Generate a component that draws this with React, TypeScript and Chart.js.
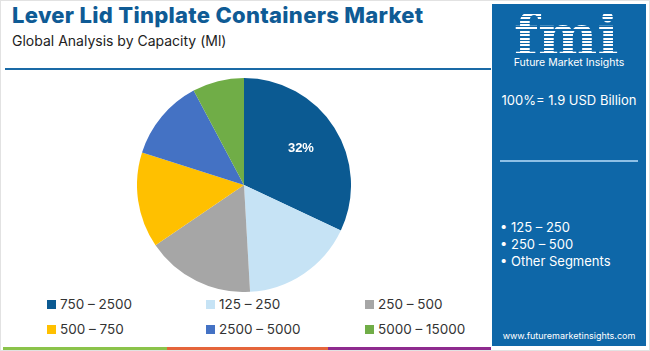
import React, { useEffect, useRef } from "react";
import { Chart, registerables } from "chart.js";

Chart.register(...registerables);

const categories = ["750 – 2500", "125 – 250", "250 – 500", "500 – 750", "2500 – 5000", "5000 – 15000"];
const shares = [32, 17.1, 16.4, 14.4, 12.3, 7.8];
const colors = ["#0b5a92", "#c6e3f5", "#a6a6a6", "#ffc000", "#4472c4", "#70ad47"];
const shownLabels = ["32%", "", "", "", "", ""];
const keySegments = ["125 – 250", "250 – 500", "Other Segments"];
const title = "Lever Lid Tinplate Containers Market";
const subtitle = "Global Analysis by Capacity (Ml)";
const totalText = "100%= 1.9 USD Billion";

const labelPlugin = {
  id: "sliceLabels",
  afterDatasetsDraw(chart: any) {
    const ctx = chart.ctx;
    const meta = chart.getDatasetMeta(0);
    meta.data.forEach((arc: any, i: number) => {
      const txt = shownLabels[i];
      if (!txt) return;
      const mid = (arc.startAngle + arc.endAngle) / 2;
      const r = arc.outerRadius * 0.63;
      const x = arc.x + Math.cos(mid) * r;
      const y = arc.y + Math.sin(mid) * r;
      ctx.save();
      ctx.fillStyle = "#ffffff";
      ctx.font = "bold 13px 'Liberation Sans', Arial, sans-serif";
      ctx.textAlign = "center";
      ctx.textBaseline = "middle";
      ctx.fillText(txt, x, y);
      ctx.restore();
    });
  },
};

export default function App() {
  const ref = useRef<HTMLCanvasElement>(null);
  useEffect(() => {
    document.body.style.margin = "0";
    const chart = new Chart(ref.current!, {
      type: "pie",
      data: {
        labels: categories,
        datasets: [{ data: shares, backgroundColor: colors, borderWidth: 0 }],
      },
      options: {
        animation: false,
        responsive: false,
        maintainAspectRatio: false,
        layout: { padding: 0 },
        plugins: { legend: { display: false }, tooltip: { enabled: false } },
      },
      plugins: [labelPlugin],
    });
    return () => chart.destroy();
  }, []);

  const font = "Inter, 'Open Sans', sans-serif";
  return (
    <div style={{ position: "absolute", left: 0, top: 0, width: 650, height: 351, background: "#fff", overflow: "hidden", fontFamily: font }}>
      <div style={{ position: "absolute", left: 0, top: 0, width: 648, height: 349, border: "1px solid #e2e2e2" }} />
      <div style={{ position: "absolute", left: 12, top: 2, fontSize: 22, fontWeight: 800, color: "#0f5b95", whiteSpace: "nowrap", letterSpacing: 0.3 }}>{title}</div>
      <div style={{ position: "absolute", left: 12, top: 32, fontSize: 14, color: "#222", whiteSpace: "nowrap" }}>{subtitle}</div>
      <div style={{ position: "absolute", left: 5, top: 68, width: 486, height: 2, background: "#1a6aa6" }} />
      <canvas ref={ref} width={214} height={214} style={{ position: "absolute", left: 137, top: 78, width: 214, height: 214 }} />
      {categories.map((c, i) => (
        <div key={c} style={{ position: "absolute", left: 47 + (i % 3) * 159, top: 296 + Math.floor(i / 3) * 25, display: "flex", alignItems: "center", fontSize: 13.5, color: "#333", whiteSpace: "nowrap" }}>
          <span style={{ display: "inline-block", width: 9, height: 9, background: colors[i], marginRight: 4 }} />
          {c}
        </div>
      ))}
      <div style={{ position: "absolute", left: 3, top: 347, width: 164, height: 3, background: "#8bc34a" }} />
      <div style={{ position: "absolute", left: 167, top: 347, width: 161, height: 3, background: "#e5653b" }} />
      <div style={{ position: "absolute", left: 328, top: 347, width: 163, height: 3, background: "#8e2a8e" }} />
      <div style={{ position: "absolute", left: 492, top: 4, width: 154, height: 342, background: "#0e67a8" }}>
        <div style={{ position: "absolute", left: 22, top: 3, fontSize: 56, lineHeight: "56px", fontWeight: 900, fontFamily: "'DejaVu Serif', serif", letterSpacing: 0, backgroundImage: "repeating-linear-gradient(to bottom, #fff 0px, #fff 2px, transparent 2px, transparent 3.4px)", WebkitBackgroundClip: "text", backgroundClip: "text", color: "transparent" }}>fmi</div>
        <div style={{ position: "absolute", left: 0, width: 154, top: 52, textAlign: "center", fontSize: 10.5, color: "#fff", whiteSpace: "nowrap" }}>Future Market Insights</div>
        <div style={{ position: "absolute", left: 0, width: 154, top: 88, textAlign: "center", fontSize: 13, color: "#fff", whiteSpace: "nowrap" }}>{totalText}</div>
        <div style={{ position: "absolute", left: 8, top: 156, width: 138, height: 2, background: "#8ec0e6" }} />
        {keySegments.map((s, i) => (
          <div key={s} style={{ position: "absolute", left: 8, top: 215 + i * 17, fontSize: 13, color: "#fff", whiteSpace: "nowrap" }}>• {s}</div>
        ))}
        <div style={{ position: "absolute", left: 0, width: 154, top: 326, textAlign: "center", fontSize: 9, color: "#fff", whiteSpace: "nowrap" }}>www.futuremarketinsights.com</div>
      </div>
    </div>
  );
}
